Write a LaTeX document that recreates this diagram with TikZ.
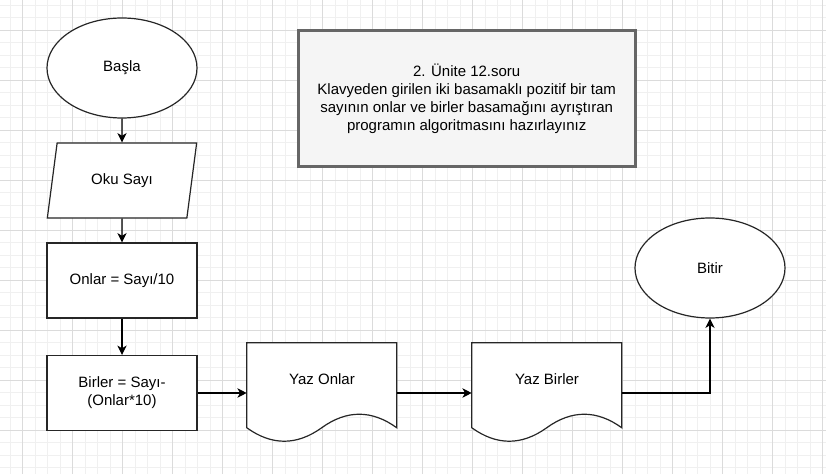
\documentclass[tikz,border=0pt]{standalone}
\usepackage{fontspec}
\setmainfont{Liberation Sans}
\usetikzlibrary{shapes.geometric,arrows.meta}

\tikzset{
  shapeline/.style={draw=black!85, line width=0.9pt},
  terminal/.style={shapeline, ellipse, fill=white, minimum width=112.5pt, minimum height=75pt, inner sep=0pt},
  iobox/.style={shapeline, trapezium, trapezium left angle=71.57, trapezium right angle=108.43,
    trapezium stretches=true, fill=white, minimum width=112.5pt, minimum height=56.25pt, inner sep=0pt},
  processbox/.style={shapeline, rectangle, fill=white, minimum width=112.5pt, minimum height=56.25pt,
    align=center, inner sep=0pt},
  docbox/.style={rectangle, minimum width=112.5pt, minimum height=75pt, inner sep=0pt,
    text height=8pt, text depth=2pt},
  notebox/.style={draw=black!60, line width=2.25pt, fill=black!4, minimum width=252.75pt,
    minimum height=102pt, align=center, inner sep=0pt},
  flow/.style={draw=black, line width=0.9pt, -{Stealth[length=7pt,width=7pt,inset=2pt]}},
  gridminor/.style={draw=black!6, line width=0.5pt},
  gridmajor/.style={draw=black!14, line width=0.5pt},
}

% outline of a document shape on top of a docbox node
\newcommand{\docoutline}[1]{%
  \draw[shapeline, fill=white, shift={(#1.north west)}]
    (0,0) -- (150,0) -- (150,85) .. controls (125,67) and (100,67) .. (75,85)
    .. controls (50,103) and (25,103) .. (0,85) -- cycle;}

\begin{document}
\begin{tikzpicture}[x=0.75pt, y=-0.75pt, font=\fontsize{11.25}{13.5}\selectfont]
  \useasboundingbox[fill=white] (0,0) rectangle (826,474);

  % background grid
  \foreach \i in {0,...,65} \draw[gridminor] ({10.2+12.5*\i},0) -- ({10.2+12.5*\i},474);
  \foreach \j in {0,...,37} \draw[gridminor] (0,{5+12.5*\j}) -- (826,{5+12.5*\j});
  \foreach \i in {0,...,16} \draw[gridmajor] ({22.7+50*\i},0) -- ({22.7+50*\i},474);
  \foreach \j in {0,...,8} \draw[gridmajor] (0,{30+50*\j}) -- (826,{30+50*\j});

  % task text
  \node[notebox] (task) at (466.7,98.8) {2. Ünite 12.soru\\Klavyeden girilen iki basamaklı pozitif bir tam\\sayının onlar ve birler basamağını ayrıştıran\\programın algoritmasını hazırlayınız};

  % flowchart
  \node[terminal] (basla) at (122,68) {Başla};
  \node[iobox] (oku) at (122,180.5) {Oku Sayı};
  \node[processbox] (onlar) at (122,280.5) {Onlar = Sayı/10};
  \node[processbox] (birler) at (122,393) {Birler = Sayı-\\(Onlar*10)};
  \node[docbox] (yazonlar) at (322,393) {};
  \docoutline{yazonlar}
  \node[docbox] at (yazonlar.center) {\raisebox{9.5pt}{Yaz Onlar}};
  \node[docbox] (yazbirler) at (547,393) {};
  \docoutline{yazbirler}
  \node[docbox] at (yazbirler.center) {\raisebox{9.5pt}{Yaz Birler}};
  \node[terminal] (bitir) at (710,268) {Bitir};

  \draw[flow] (basla) -- (oku);
  \draw[flow] (oku) -- (onlar);
  \draw[flow] (onlar) -- (birler);
  \draw[flow] (birler) -- (yazonlar);
  \draw[flow] (yazonlar) -- (yazbirler);
  \draw[flow] (yazbirler.east) -| (bitir.south);
\end{tikzpicture}
\end{document}
